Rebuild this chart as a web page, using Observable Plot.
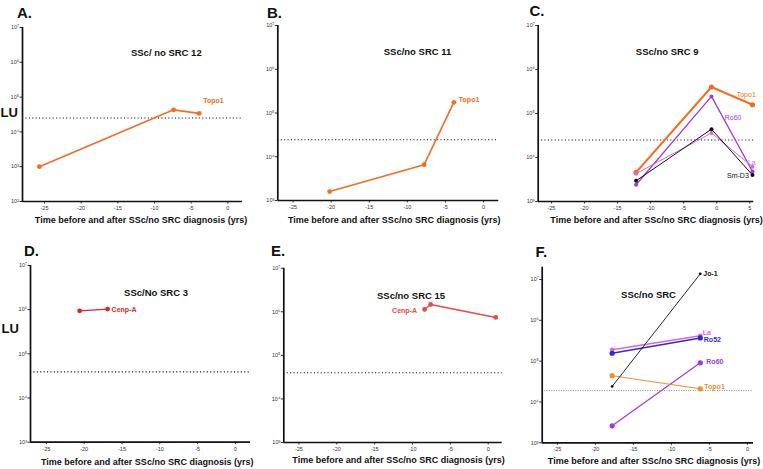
<!DOCTYPE html>
<html><head><meta charset="utf-8">
<script src="https://cdn.jsdelivr.net/npm/d3@7"></script>
<script src="https://cdn.jsdelivr.net/npm/@observablehq/plot@0.6"></script>
<style>
body{margin:0;background:#fff;}
#chart{position:relative;width:763px;height:469px;overflow:hidden;background:#fff;}
#chart svg{position:absolute;}
</style></head><body><div id="chart"></div>
<script>
const FONT = '"Liberation Sans", Arial, Helvetica, sans-serif';

// ---- Data (time in years, antibody level in LU) ----
const aTime = [-25.7, -7.4, -3.9];
const aTopo1 = [1.0e3, 4.3e4, 3.4e4];

const bTime = [-20.2, -7.8, -3.9];
const bTopo1 = [1.6e3, 6.6e3, 1.75e5];

const cTime = [-12.2, -0.8, 5.4];
const cTopo1 = [4.6e3, 4.0e5, 1.58e5];
const cRo60 = [2.4e3, 2.45e5, 4.8e3];
const cLa = [4.3e3, 3.6e4, 6.2e3];
const cSmD3 = [2.95e3, 4.4e4, 4.0e3];

const dTime = [-20.6, -16.9];
const dCenpA = [9.4e5, 1.03e6];

const eTime = [-8.4, -7.6, 1.0];
const eCenpA = [1.13e6, 1.47e6, 7.4e5];

const fTime = [-17.8, -6.2];
const fLa = [1.9e5, 4.2e5];
const fRo52 = [1.56e5, 3.7e5];
const fRo60 = [2.6e3, 9.1e4];
const fTopo1 = [4.4e4, 2.1e4];
const fJo1 = [2.4e4, 1.38e7];

const cutoffs = {A: 2.5e4, B: 2.45e4, C: 2.5e4, D: 3.9e4, E: 4.0e4, F: 1.9e4};
const titles = {A: "SSc/ no SRC 12", B: "SSc/no SRC 11", C: "SSc/no SRC 9", D: "SSc/No SRC 3", E: "SSc/no SRC 15", F: "SSc/no SRC"};
const xAxisTitle = "Time before and after SSc/no SRC diagnosis (yrs)";
const yAxisTitle = "LU";
const xTicks = [-25, -20, -15, -10, -5, 0];
const xTicksC = [-25, -20, -15, -10, -5, 0, 5];
const yTicks5 = [1e2, 1e3, 1e4, 1e5, 1e6, 1e7];
const yTicks4 = [1e3, 1e4, 1e5, 1e6, 1e7];

const COL = {topo1: "#f26d21", topo1F: "#f28c2c", ro60: "#a23ad6", la: "#e063df", smd3: "#111", ro52: "#2b2bd6", cenpD: "#df2323", cenpE: "#e8494b", jo1: "#111"};

const sup = {"0":"⁰","1":"¹","2":"²","3":"³","4":"⁴","5":"⁵","6":"⁶","7":"⁷","8":"⁸","9":"⁹"};
const fmtPow = d => "10" + String(Math.round(Math.log10(d))).split("").map(c => sup[c]).join("");

function panel(cfg) {
  const [bx, by, bw, bh] = cfg.box;
  const [L, T, R, B] = cfg.frame;
  const marks = [];
  marks.push(Plot.ruleY([cfg.cutoff], {stroke: cfg.cutColor || "#111", strokeWidth: cfg.cutWidth || 1.1, strokeDasharray: cfg.cutDash || "1.1,2.3"}));
  for (const s of cfg.series) {
    const rows = s.time.map((t, i) => ({t, v: s.values[i]}));
    marks.push(Plot.line(rows, {x: "t", y: "v", stroke: s.color, strokeWidth: s.sw}));
    marks.push(Plot.dot(rows, {x: "t", y: "v", fill: s.color, r: s.r}));
    const at = s.labelAt == null ? rows.length - 1 : s.labelAt;
    marks.push(Plot.text([rows[at]], {x: "t", y: "v", text: () => s.name, fill: s.color,
      dx: s.ldx, dy: s.ldy, textAnchor: s.anchor || "start", lineAnchor: "middle", fontSize: s.fs || 7,
      fontWeight: s.bold === false ? "normal" : "bold", fontFamily: FONT}));
  }
  marks.push(Plot.ruleX([cfg.x[0]], {stroke: "#111", strokeWidth: 1.7}));
  marks.push(Plot.ruleY([cfg.y[0]], {stroke: "#111", strokeWidth: 1.7}));
  for (const t of cfg.texts) {
    marks.push(Plot.text([t.text], {text: d => d, frameAnchor: "top-left", dx: t.x - L, dy: t.y - T,
      textAnchor: t.anchor || "middle", lineAnchor: "middle", fontSize: t.size, fontWeight: "bold", fill: "#111", fontFamily: FONT}));
  }
  const svg = Plot.plot({
    width: bw, height: bh,
    marginLeft: L - bx, marginTop: T - by, marginRight: bx + bw - R, marginBottom: by + bh - B,
    x: {domain: cfg.x, ticks: cfg.xTicks, tickFormat: d => String(d), tickSize: 2.5, tickPadding: 2, label: null},
    y: {type: "log", domain: cfg.y, ticks: cfg.yTicks, tickFormat: fmtPow, tickSize: 2.5, tickPadding: 1, label: null},
    style: {background: "transparent", fontSize: "5.5px", fontFamily: FONT, color: "#333", overflow: "visible"},
    marks
  });
  svg.style.left = bx + "px";
  svg.style.top = by + "px";
  document.getElementById("chart").appendChild(svg);
}

// A
panel({
  box: [0, 0, 250, 230], frame: [22, 27, 242, 201], x: [-28, 2], y: [1e2, 1e7], xTicks, yTicks: yTicks5,
  cutoff: cutoffs.A,
  series: [{name: "Topo1", time: aTime, values: aTopo1, color: COL.topo1, sw: 1.6, r: 2.4, ldx: 4, ldy: -13}],
  texts: [
    {text: "A.", x: 16.5, y: 13, size: 15, anchor: "start"},
    {text: yAxisTitle, x: 0, y: 112, size: 13, anchor: "start"},
    {text: titles.A, x: 165.8, y: 52, size: 9.5},
    {text: xAxisTitle, x: 140.5, y: 220, size: 9}
  ]
});
// B
panel({
  box: [250, 0, 255, 230], frame: [277.3, 25, 498.3, 200], x: [-27, 2], y: [1e3, 1e7], xTicks, yTicks: yTicks4,
  cutoff: cutoffs.B,
  series: [{name: "Topo1", time: bTime, values: bTopo1, color: COL.topo1, sw: 1.6, r: 2.4, ldx: 5, ldy: -3}],
  texts: [
    {text: "B.", x: 266.5, y: 13, size: 15, anchor: "start"},
    {text: titles.B, x: 417, y: 51, size: 9.5},
    {text: xAxisTitle, x: 393.7, y: 220, size: 9}
  ]
});
// C
panel({
  box: [505, 0, 258, 230], frame: [537.7, 25, 753.3, 201], x: [-27, 5.6], y: [1e3, 1e7], xTicks: xTicksC, yTicks: yTicks4,
  cutoff: cutoffs.C,
  series: [
    {name: "Topo1", time: cTime, values: cTopo1, color: COL.topo1, sw: 2, r: 2.6, ldx: 3.3, ldy: -10, anchor: "end", bold: false},
    {name: "Ro60", time: cTime, values: cRo60, color: COL.ro60, sw: 1.3, r: 2, labelAt: 1, ldx: 13.3, ldy: 21.3, bold: false},
    {name: "La", time: cTime, values: cLa, color: COL.la, sw: 1, r: 2, ldx: 3.3, ldy: -4, anchor: "end", bold: false},
    {name: "Sm-D3", time: cTime, values: cSmD3, color: COL.smd3, sw: 1, r: 2, ldx: -3.7, ldy: 0.5, anchor: "end", bold: false}
  ],
  texts: [
    {text: "C.", x: 529, y: 11, size: 15, anchor: "start"},
    {text: titles.C, x: 666.7, y: 51, size: 9.5},
    {text: xAxisTitle, x: 656, y: 220, size: 9}
  ]
});
// D
panel({
  box: [0, 230, 250, 239], frame: [30, 265, 250, 441.7], x: [-27.1, 2], y: [1e3, 1e7], xTicks, yTicks: yTicks4,
  cutoff: cutoffs.D,
  series: [{name: "Cenp-A", time: dTime, values: dCenpA, color: COL.cenpD, sw: 1.4, r: 2.4, ldx: 4, ldy: 0.3}],
  texts: [
    {text: "D.", x: 23.5, y: 251, size: 15, anchor: "start"},
    {text: yAxisTitle, x: 1, y: 328, size: 13, anchor: "start"},
    {text: titles.D, x: 155.5, y: 292.3, size: 9.5},
    {text: xAxisTitle, x: 146.7, y: 461.7, size: 9}
  ]
});
// E
panel({
  box: [250, 230, 255, 239], frame: [283.3, 267.7, 501.7, 442], x: [-27, 1.85], y: [1e3, 1e7], xTicks, yTicks: yTicks4,
  cutoff: cutoffs.E,
  series: [{name: "Cenp-A", time: eTime, values: eCenpA, color: COL.cenpE, sw: 1.4, r: 2.4, labelAt: 0, ldx: -7.6, ldy: 1, anchor: "end"}],
  texts: [
    {text: "E.", x: 270.5, y: 251, size: 15, anchor: "start"},
    {text: titles.E, x: 410.5, y: 295.7, size: 9.5},
    {text: xAxisTitle, x: 398, y: 460, size: 9}
  ]
});
// F
panel({
  box: [505, 230, 258, 239], frame: [541.7, 266.7, 753, 442.3], x: [-27, 0.8], y: [1e3, 2e7], xTicks, yTicks: yTicks4,
  cutoff: cutoffs.F, cutColor: "#888", cutWidth: 1, cutDash: "1,1.4",
  series: [
    {name: "La", time: fTime, values: fLa, color: COL.la, sw: 1.5, r: 2.3, ldx: 2.5, ldy: -3},
    {name: "Ro52", time: fTime, values: fRo52, color: COL.ro52, sw: 1.5, r: 2.6, ldx: 3.5, ldy: 2},
    {name: "Ro60", time: fTime, values: fRo60, color: COL.ro60, sw: 1.2, r: 2.6, ldx: 6, ldy: -0.6},
    {name: "Topo1", time: fTime, values: fTopo1, color: COL.topo1F, sw: 1, r: 2.6, ldx: 4, ldy: -1.7},
    {name: "Jo-1", time: fTime, values: fJo1, color: COL.jo1, sw: 0.9, r: 1.4, ldx: 3, ldy: 0}
  ],
  texts: [
    {text: "F.", x: 535, y: 251.5, size: 15, anchor: "start"},
    {text: titles.F, x: 648, y: 294.3, size: 9.5},
    {text: xAxisTitle, x: 653.5, y: 460.7, size: 9}
  ]
});
</script></body></html>
